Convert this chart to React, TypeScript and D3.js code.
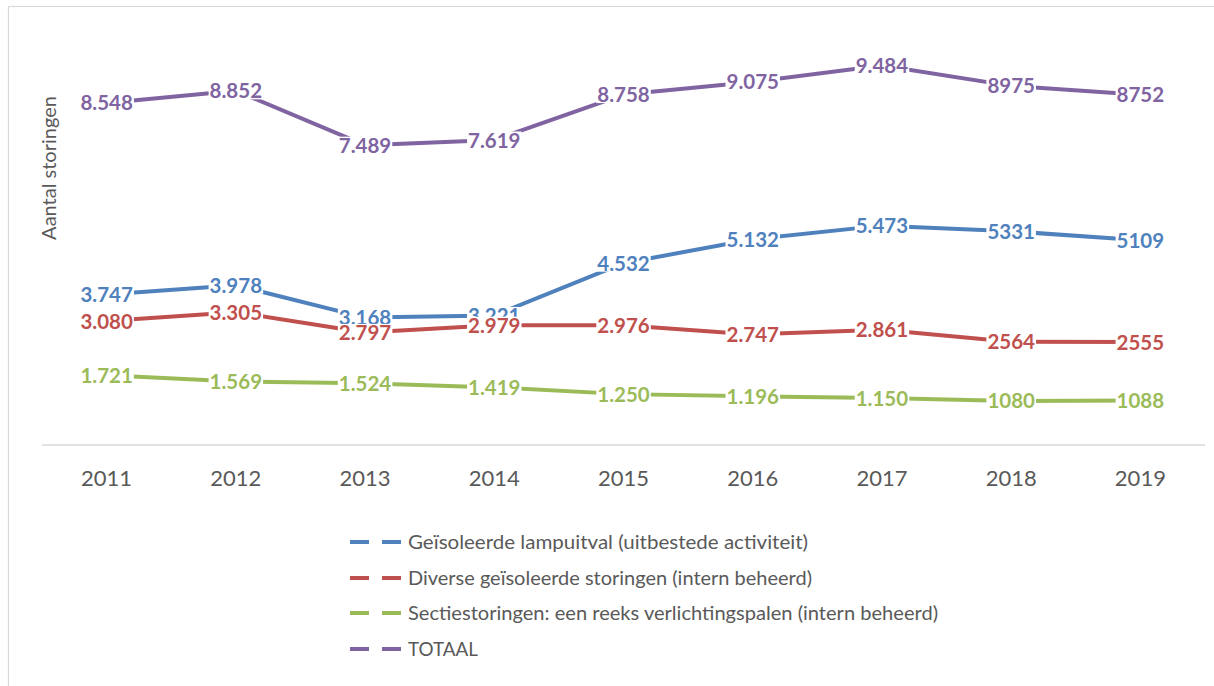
import React, { useEffect, useRef } from "react";
import * as d3 from "d3";

const years = ["2011", "2012", "2013", "2014", "2015", "2016", "2017", "2018", "2019"];
const lampuitval = [3747, 3978, 3168, 3221, 4532, 5132, 5473, 5331, 5109];
const diverse = [3080, 3305, 2797, 2979, 2976, 2747, 2861, 2564, 2555];
const sectie = [1721, 1569, 1524, 1419, 1250, 1196, 1150, 1080, 1088];
const totaal = [8548, 8852, 7489, 7619, 8758, 9075, 9484, 8975, 8752];
const seriesNames = [
  "Geïsoleerde lampuitval (uitbestede activiteit)",
  "Diverse geïsoleerde storingen (intern beheerd)",
  "Sectiestoringen: een reeks verlichtingspalen (intern beheerd)",
  "TOTAAL",
];
// years whose labels are shown with a "." thousands separator
const dottedLabelYears = ["2011", "2012", "2013", "2014", "2015", "2016", "2017"];
const yAxisTitle = "Aantal storingen";

const seriesValues = [lampuitval, diverse, sectie, totaal];
const seriesColors = ["#4f81bd", "#c0504d", "#9bbb59", "#8064a2"];
const legendTextEnds = [808, 812, 938, 478];

export default function App() {
  const ref = useRef<SVGSVGElement>(null);

  useEffect(() => {
    const svg = d3.select(ref.current);
    svg.selectAll("*").remove();
    const W = 1214, H = 686;
    const font = "Lato, 'Open Sans', sans-serif";
    const grey = "#595959";

    svg.append("rect").attr("x", 0).attr("y", 0).attr("width", W).attr("height", H).attr("fill", "#fff");
    svg.append("rect")
      .attr("x", 8.5).attr("y", 6.5).attr("width", W + 20).attr("height", H + 20)
      .attr("fill", "#fff").attr("stroke", "#d9d9d9").attr("stroke-width", 1.2);

    const x = d3.scaleBand<string>().domain(years).range([42, 1205]);
    const cx = (yr: string) => (x(yr) as number) + x.bandwidth() / 2;
    const y = d3.scaleLinear().domain([0, 10000]).range([444, 45]);

    // axis line
    svg.append("line")
      .attr("x1", 42).attr("x2", 1205).attr("y1", 445).attr("y2", 445)
      .attr("stroke", "#d9d9d9").attr("stroke-width", 1.5);

    // tick labels
    svg.append("g").selectAll("text").data(years).join("text")
      .attr("x", (d) => cx(d)).attr("y", 486)
      .attr("text-anchor", "middle")
      .attr("font-family", font).attr("font-size", 22).attr("fill", grey)
      .text((d) => d);

    // y title
    svg.append("text")
      .attr("transform", "translate(56,168) rotate(-90)")
      .attr("text-anchor", "middle")
      .attr("font-family", font).attr("font-size", 20).attr("fill", grey)
      .text(yAxisTitle);

    const line = d3.line<number>()
      .x((_, i) => cx(years[i]))
      .y((d) => y(d));

    seriesValues.forEach((vals, si) => {
      svg.append("path")
        .attr("d", line(vals) as string)
        .attr("fill", "none")
        .attr("stroke", seriesColors[si])
        .attr("stroke-width", 4)
        .attr("stroke-linejoin", "round")
        .attr("stroke-linecap", "round");
    });

    const dotted = d3.formatLocale({ thousands: ".", grouping: [3], decimal: ",", currency: ["", ""] }).format(",d");
    seriesValues.forEach((vals, si) => {
      const g = svg.append("g");
      vals.forEach((v, i) => {
        const yr = years[i];
        const txt = dottedLabelYears.includes(yr) ? dotted(v) : String(v);
        const lg = g.append("g");
        const rect = lg.append("rect").attr("fill", "#fff");
        const t = lg.append("text")
          .attr("x", cx(yr)).attr("y", y(v) + 7.5)
          .attr("text-anchor", "middle")
          .attr("font-family", font).attr("font-weight", 700).attr("font-size", 20.5)
          .attr("fill", seriesColors[si])
          .text(txt);
        const bb = (t.node() as SVGTextElement).getBBox();
        rect.attr("x", bb.x - 1).attr("y", y(v) - 8.5).attr("width", bb.width + 2).attr("height", 17);
      });
    });

    // legend
    const rowY = [542, 578, 613, 649];
    seriesNames.forEach((name, i) => {
      const g = svg.append("g");
      g.append("line")
        .attr("x1", 350).attr("x2", 404).attr("y1", rowY[i]).attr("y2", rowY[i])
        .attr("stroke", seriesColors[i]).attr("stroke-width", 4)
        .attr("stroke-dasharray", "19,13");
      g.append("text")
        .attr("x", 408).attr("y", rowY[i] + 7)
        .attr("font-family", font).attr("font-size", 19).attr("fill", grey)
        .attr("textLength", legendTextEnds[i] - 408)
        .attr("lengthAdjust", "spacingAndGlyphs")
        .text(name);
    });
  }, []);

  return (
    <div style={{ position: "fixed", left: 0, top: 0 }}>
      <svg ref={ref} width={1214} height={686} style={{ display: "block" }} />
    </div>
  );
}
